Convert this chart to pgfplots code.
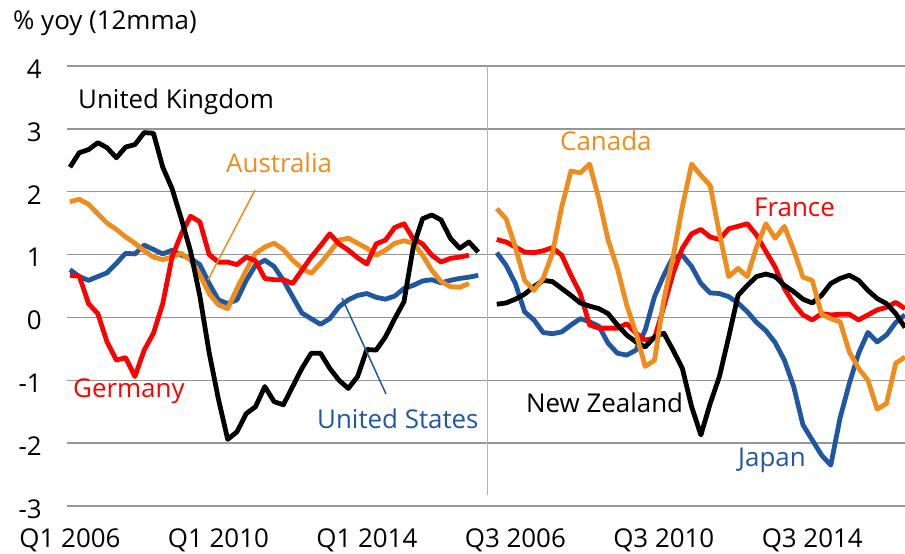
\documentclass[border=0pt]{standalone}
\usepackage{fontspec}
\setmainfont{Open Sans}
\usepackage{pgfplots}
\usepackage{pgfplotstable}
\pgfplotsset{compat=1.18}
\definecolor{cblue}{RGB}{31,88,160}
\definecolor{corange}{RGB}{239,140,30}
\definecolor{cred}{RGB}{255,0,0}
\definecolor{gridgray}{RGB}{150,150,150}
\definecolor{sepgray}{RGB}{175,180,185}
\newcommand\lf{\fontsize{26}{31}\selectfont}

\pgfplotstableread{
i uk de au us
0 2.39 0.67 1.84 0.76
1 2.62 0.66 1.88 0.65
2 2.67 0.22 1.80 0.59
3 2.78 0.06 1.65 0.65
4 2.70 -0.39 1.50 0.71
5 2.54 -0.68 1.40 0.86
6 2.71 -0.64 1.28 1.02
7 2.75 -0.94 1.18 1.01
8 2.94 -0.52 1.06 1.15
9 2.93 -0.25 0.96 1.08
10 2.39 0.22 0.92 1.01
11 2.05 0.96 0.96 1.07
12 1.57 1.33 1.02 0.99
13 1.05 1.61 0.91 0.94
14 0.34 1.52 0.68 0.84
15 -0.56 1.00 0.38 0.54
16 -1.30 0.88 0.20 0.28
17 -1.94 0.88 0.14 0.22
18 -1.82 0.84 0.46 0.28
19 -1.53 0.96 0.75 0.59
20 -1.42 0.90 1.02 0.83
21 -1.10 0.62 1.12 0.91
22 -1.34 0.60 1.18 0.81
23 -1.39 0.60 1.08 0.59
24 -1.10 0.54 0.91 0.33
25 -0.81 0.75 0.78 0.07
26 -0.57 0.96 0.70 -0.02
27 -0.57 1.14 0.86 -0.11
28 -0.81 1.33 1.04 -0.02
29 -1.00 1.17 1.23 0.17
30 -1.13 1.07 1.26 0.28
31 -0.94 0.95 1.18 0.35
32 -0.51 0.85 1.10 0.38
33 -0.52 1.17 0.99 0.32
34 -0.31 1.23 1.07 0.29
35 -0.02 1.43 1.18 0.34
36 0.25 1.49 1.22 0.46
37 1.12 1.25 1.18 0.51
38 1.57 1.17 0.99 0.58
39 1.63 0.99 0.75 0.60
40 1.55 0.88 0.57 0.55
41 1.26 0.94 0.49 0.59
42 1.10 0.96 0.48 0.62
43 1.20 0.99 0.54 0.64
44 1.04 nan nan 0.67
}\lefttab

\pgfplotstableread{
j ca fr nz jp
0 1.73 1.24 0.21 1.03
1 1.57 1.20 0.23 0.83
2 1.12 1.12 0.29 0.54
3 0.59 1.04 0.37 0.09
4 0.43 1.03 0.49 -0.04
5 0.62 1.06 0.59 -0.24
6 1.02 1.11 0.57 -0.26
7 1.76 0.99 0.46 -0.23
8 2.33 0.67 0.35 -0.12
9 2.30 0.38 0.23 -0.02
10 2.44 -0.12 0.18 -0.07
11 1.89 -0.17 0.14 -0.14
12 1.23 -0.17 0.06 -0.41
13 0.78 -0.17 -0.12 -0.57
14 0.20 -0.10 -0.28 -0.60
15 -0.25 -0.25 -0.39 -0.52
16 -0.78 -0.36 -0.47 -0.20
17 -0.68 -0.33 -0.31 0.33
18 0.28 0.17 -0.25 0.67
19 0.96 0.70 -0.52 0.96
20 1.76 1.10 -0.81 0.99
21 2.44 1.33 -1.42 0.81
22 2.26 1.40 -1.87 0.54
23 2.10 1.28 -1.37 0.39
24 1.33 1.24 -0.94 0.38
25 0.65 1.41 -0.31 0.33
26 0.78 1.45 0.35 0.23
27 0.65 1.49 0.51 0.09
28 1.12 1.31 0.65 -0.08
29 1.49 1.05 0.69 -0.21
30 1.26 0.80 0.65 -0.40
31 1.45 0.46 0.51 -0.68
32 1.07 0.22 0.41 -1.10
33 0.64 0.04 0.29 -1.71
34 0.59 -0.04 0.23 -1.95
35 0.05 0.06 0.35 -2.19
36 -0.02 0.04 0.54 -2.35
37 -0.07 0.05 0.62 -1.60
38 -0.55 0.05 0.67 -1.05
39 -0.81 -0.04 0.59 -0.57
40 -1.00 0.04 0.43 -0.24
41 -1.46 0.12 0.30 -0.39
42 -1.37 0.16 0.22 -0.28
43 -0.73 0.24 0.06 -0.08
44 -0.63 0.14 -0.16 0.04
}\righttab

\begin{document}
\begin{tikzpicture}[x=1bp,y=1bp]
\useasboundingbox (-67,-48) rectangle (838,506);
\begin{axis}[
  at={(0,0)}, anchor=south west,
  width=838bp, height=440bp, scale only axis,
  xmin=-0.32, xmax=90, ymin=-3, ymax=4,
  axis line style={draw=none}, major tick length=0pt,
  ymajorgrids, grid style={gridgray, line width=1.5bp},
  ytick={-3,-2,-1,0,1,2,3,4},
  xtick={0,16,32,48,64,80},
  xticklabels={Q1 2006,Q1 2010,Q1 2014,Q3 2006,Q3 2010,Q3 2014},
  /pgf/number format/assume math mode=true,
  ticklabel style={font=\lf, inner sep=0pt},
  yticklabel style={anchor=east, xshift=-25bp, yshift=-3bp},
  xticklabel style={anchor=north, yshift=-23bp},
  clip=false,
  every axis plot/.append style={line width=4.8bp, line join=round, no marks},
]
\draw[sepgray, line width=1.5bp] (axis cs:45,4) -- (axis cs:45,-2.82);
\addplot[cblue] table[x=i, y=us] {\lefttab};
\addplot[corange] table[x=i, y=au] {\lefttab};
\addplot[cred] table[x=i, y=de] {\lefttab};
\addplot[black] table[x=i, y=uk] {\lefttab};
\addplot[cblue] table[x expr=\thisrow{j}+46, y=jp] {\righttab};
\addplot[cred] table[x expr=\thisrow{j}+46, y=fr] {\righttab};
\addplot[black] table[x expr=\thisrow{j}+46, y=nz] {\righttab};
\addplot[corange] table[x expr=\thisrow{j}+46, y=ca] {\righttab};
\end{axis}
\draw[corange, line width=1.5bp] (188,316) -- (141,226);
\draw[cblue, line width=1.5bp] (275,208) -- (319,112);
\begin{scope}[every node/.style={font=\lf, inner sep=0pt, anchor=base west}]
\node at (-54,476) {\% yoy (12mma)};
\node at (11,397) {United Kingdom};
\node[text=corange] at (159,333) {Australia};
\node[text=cred] at (6,108) {Germany};
\node[text=cblue] at (250,77) {United States};
\node[text=corange] at (493,355) {Canada};
\node[text=cred] at (687,289) {France};
\node at (459,93) {New Zealand};
\node[text=cblue] at (671,39) {Japan};
\end{scope}
\end{tikzpicture}
\end{document}
